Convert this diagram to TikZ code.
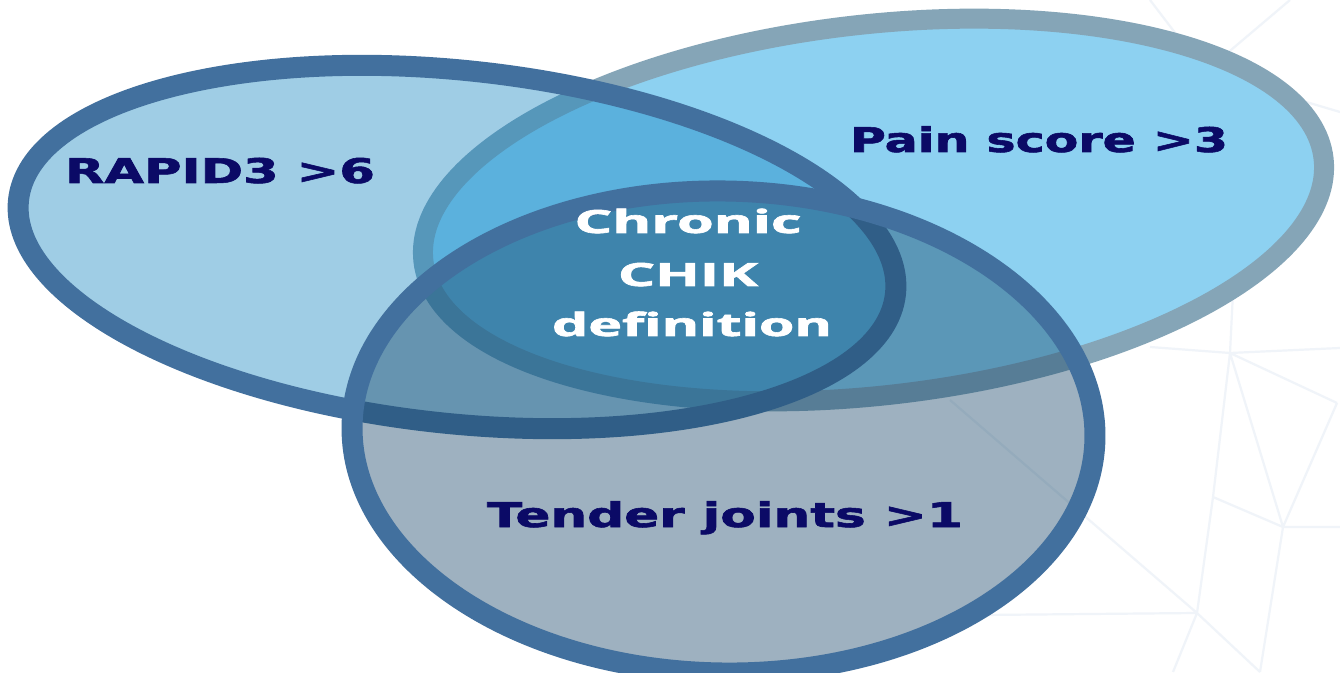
\documentclass[tikz,border=0pt]{standalone}
\usepackage{fontspec}
\usepackage{graphicx}
\setmainfont{DejaVu Sans}
\newfontfamily\navyfont[BoldFeatures={FakeBold=1.6}]{DejaVu Sans}
\newfontfamily\whitefont[BoldFeatures={FakeBold=1.8}]{Open Sans}
\definecolor{bgline}{HTML}{F0F4F9}
\definecolor{eonefill}{HTML}{1182C0}
\definecolor{etwofill}{HTML}{8DD1F1}
\definecolor{etwoedge}{HTML}{85A5B7}
\definecolor{ethreefill}{HTML}{184769}
\definecolor{edge}{HTML}{42709E}
\definecolor{navy}{HTML}{0B0A66}
\newcommand{\fitwidth}[2]{\resizebox{#1}{\height}{#2}}
\tikzset{
  bgl/.style={draw=bgline, line width=2.2pt},
  lbl/.style={anchor=base, inner sep=0pt, text=navy, font=\navyfont\bfseries\fontsize{34}{38}\selectfont},
  wlbl/.style={anchor=base, inner sep=0pt, text=white, font=\whitefont\bfseries\fontsize{32}{38}\selectfont},
}
\begin{document}
\begin{tikzpicture}[x=1pt,y=1pt]
\useasboundingbox (0,0) rectangle (1340,672);
\fill[white] (0,0) rectangle (1340,672);
% faint background network
\coordinate (A) at (1230,319);
\coordinate (B) at (1283,145);
\coordinate (C) at (1197,59);
\coordinate (D) at (1213,175);
\coordinate (E) at (1337,269);
\coordinate (F) at (1340,324);
\coordinate (G) at (1150,325);
\coordinate (H) at (1340,145);
\coordinate (I) at (1260,0);
\coordinate (J) at (1173,0);
\coordinate (K) at (983,57);
\coordinate (L) at (950,272);
\coordinate (M) at (1233,380);
\coordinate (N) at (1290,672);
\coordinate (P) at (1340,560);
\coordinate (Q) at (1150,672);
\coordinate (R) at (1205,600);
\draw[bgl] (G) -- (A) -- (F);
\draw[bgl] (A) -- (E) (A) -- (B) (A) -- (D) (D) -- (C) (D) -- (B) (B) -- (H) (B) -- (E) (B) -- (I)
  (C) -- (I) (C) -- (J) (C) -- (K) (C) -- (L) (A) -- (M)
  (Q) -- (R) -- (N) (R) -- (P);
% ellipses
\path[fill=etwofill, draw=etwoedge, line width=20pt] (873.5,462) ellipse [x radius=453, y radius=185.5, rotate=6.5];
\path[fill=eonefill, fill opacity=0.4] (457,425) ellipse [x radius=441, y radius=176.5, rotate=-6.1];
\path[draw=edge, line width=21pt] (457,425) ellipse [x radius=441, y radius=176.5, rotate=-6.1];
\path[fill=ethreefill, fill opacity=0.42] (723.5,240) ellipse [x radius=371.5, y radius=241, rotate=-1];
\path[draw=edge, line width=21pt] (723.5,240) ellipse [x radius=371.5, y radius=241, rotate=-1];
% labels
\node[lbl] (rapid) at (220,489) {\fitwidth{310pt}{RAPID3 >6}};
\node[lbl] (pain) at (1039,520) {\fitwidth{378pt}{Pain score >3}};
\node[lbl] (tender) at (725,145) {\fitwidth{476pt}{Tender joints >1}};
\node[wlbl] (chronic) at (688,439) {\fitwidth{227pt}{Chronic}};
\node[wlbl] (chik) at (688,386) {\fitwidth{140pt}{CHIK}};
\node[wlbl] (defn) at (692,336) {\fitwidth{280pt}{definition}};
\end{tikzpicture}
\end{document}
